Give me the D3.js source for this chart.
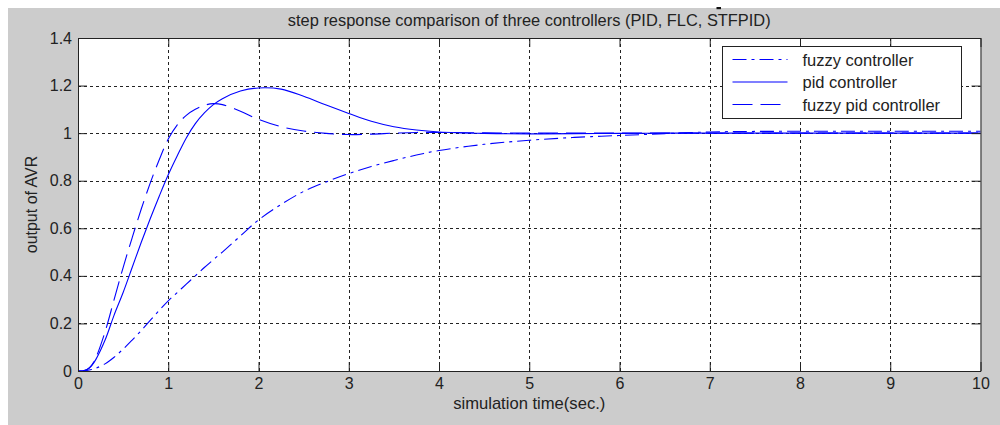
<!DOCTYPE html>
<html>
<head>
<meta charset="utf-8">
<script src="https://cdn.jsdelivr.net/npm/d3@7"></script>
<style>
  body { margin: 0; background: #fff; }
  text { font-family: "Liberation Sans", Arial, sans-serif; fill: #222; }
</style>
</head>
<body>
<div id="chart"></div>
<script>
// sample times (sec.) shared by the three step responses
var time = [0, 0.05, 0.1, 0.15, 0.2, 0.3, 0.4, 0.5, 0.6, 0.7, 0.8, 0.9, 1.0, 1.1, 1.2, 1.3, 1.4, 1.5, 1.6, 1.8,
            2.0, 2.25, 2.5, 2.75, 3.0, 3.25, 3.5, 3.75, 4.0, 4.5, 5, 5.5, 6, 6.5, 7, 8, 9, 10];

var fuzzyValues = [0, 0, 0.002, 0.006, 0.012, 0.03, 0.058, 0.092, 0.13, 0.17, 0.213, 0.255, 0.295, 0.33, 0.365,
                   0.4, 0.435, 0.468, 0.5, 0.568, 0.635, 0.7, 0.755, 0.795, 0.83, 0.86, 0.885, 0.908,
                   0.927, 0.953, 0.97, 0.982, 0.99, 0.998, 1.005, 1.008, 1.008, 1.008];

var pidValues = [0, 0, 0.006, 0.022, 0.05, 0.13, 0.235, 0.33, 0.435, 0.54, 0.64, 0.735, 0.825, 0.905, 0.98,
                 1.04, 1.085, 1.12, 1.145, 1.177, 1.19, 1.185, 1.155, 1.118, 1.083, 1.05, 1.027, 1.013,
                 1.005, 0.999, 0.997, 0.998, 0.999, 1.0, 1.0, 1.0, 1.0, 1.0];

var fuzzyPidValues = [0, 0, 0.006, 0.024, 0.058, 0.165, 0.3, 0.435, 0.56, 0.68, 0.79, 0.888, 0.975, 1.035, 1.075,
                      1.1, 1.117, 1.124, 1.12, 1.092, 1.058, 1.027, 1.009, 0.999, 0.994, 0.996, 1.0, 1.003,
                      1.003, 1.001, 1.0, 1.0, 1.0, 1.0, 1.0, 1.0, 1.0, 1.0];

var seriesNames = ["fuzzy controller", "pid controller", "fuzzy pid controller"];
var xTicks = [0, 1, 2, 3, 4, 5, 6, 7, 8, 9, 10];
var yTicks = [0, 0.2, 0.4, 0.6, 0.8, 1, 1.2, 1.4];
var yTickLabels = ["0", "0.2", "0.4", "0.6", "0.8", "1", "1.2", "1.4"];

var W = 1000, H = 425;
var margin = {top: 38, right: 19.5, bottom: 54, left: 78};

var svg = d3.select("#chart").append("svg")
    .attr("width", W)
    .attr("height", H);

// grey figure background
svg.append("rect")
    .attr("x", 8).attr("y", 8)
    .attr("width", W - 8).attr("height", H - 8)
    .attr("fill", "#cccccc");

var x = d3.scaleLinear().domain([0, 10]).range([margin.left, W - margin.right]);
var y = d3.scaleLinear().domain([0, 1.4]).range([H - margin.bottom, margin.top]);

// plot area
svg.append("rect")
    .attr("x", x(0)).attr("y", y(1.4))
    .attr("width", x(10) - x(0)).attr("height", y(0) - y(1.4))
    .attr("fill", "#fff");

// dotted grid
var grid = svg.append("g").attr("stroke", "#222").attr("stroke-width", 1).attr("stroke-dasharray", "3,3");
grid.selectAll(".gx").data(xTicks.slice(1, -1)).enter().append("line")
    .attr("x1", function(d) { return Math.round(x(d)) + 0.5; })
    .attr("x2", function(d) { return Math.round(x(d)) + 0.5; })
    .attr("y1", y(1.4)).attr("y2", y(0));
grid.selectAll(".gy").data(yTicks.slice(1, -1)).enter().append("line")
    .attr("y1", function(d) { return Math.round(y(d)) + 0.5; })
    .attr("y2", function(d) { return Math.round(y(d)) + 0.5; })
    .attr("x1", x(0)).attr("x2", x(10));

// curves
var styles = [
    {values: fuzzyValues, dash: "14,5,3,5"},
    {values: pidValues, dash: null},
    {values: fuzzyPidValues, dash: "20,8"}
];

var line = d3.line()
    .x(function(d) { return x(d[0]); })
    .y(function(d) { return y(d[1]); })
    .curve(d3.curveCatmullRom.alpha(0.5));

svg.selectAll(".curve").data(styles).enter().append("path")
    .attr("class", "curve")
    .attr("fill", "none")
    .attr("stroke", "#0000ff")
    .attr("stroke-width", 1.1)
    .attr("stroke-dasharray", function(d) { return d.dash; })
    .attr("d", function(d) { return line(d.values.map(function(v, i) { return [time[i], v]; })); });

// axes: box with inward ticks on all sides
var tickLen = 9;
var axisBottom = d3.axisBottom(x).tickValues(xTicks).tickSizeInner(-tickLen).tickSizeOuter(0).tickPadding(7)
    .tickFormat(d3.format("d"));
var axisTop = d3.axisTop(x).tickValues(xTicks).tickSizeInner(-tickLen).tickSizeOuter(0).tickFormat("");
var axisLeft = d3.axisLeft(y).tickValues(yTicks).tickSizeInner(-tickLen).tickSizeOuter(0).tickPadding(6)
    .tickFormat(function(d, i) { return yTickLabels[i]; });
var axisRight = d3.axisRight(y).tickValues(yTicks).tickSizeInner(-tickLen).tickSizeOuter(0).tickFormat("");

function styleAxis(g) {
    g.select(".domain").attr("stroke", "#222");
    g.selectAll(".tick line").attr("stroke", "#222");
    g.selectAll("text").attr("fill", "#222").style("font-size", "16px")
        .style("font-family", "\"Liberation Sans\", Arial, sans-serif");
}

svg.append("g").attr("transform", "translate(0," + y(0) + ")").call(axisBottom).call(styleAxis);
svg.append("g").attr("transform", "translate(0," + y(1.4) + ")").call(axisTop).call(styleAxis);
svg.append("g").attr("transform", "translate(" + x(0) + ",0)").call(axisLeft).call(styleAxis);
svg.append("g").attr("transform", "translate(" + x(10) + ",0)").call(axisRight).call(styleAxis);

// titles
var cx = (x(0) + x(10)) / 2;
svg.append("text")
    .attr("x", cx).attr("y", 26)
    .attr("text-anchor", "middle")
    .style("font-size", "16.4px")
    .text("step response comparison of three controllers (PID, FLC, STFPID)");

svg.append("rect")
    .attr("x", 716.5).attr("y", 7)
    .attr("width", 4.5).attr("height", 2.2)
    .attr("fill", "#111");

svg.append("text")
    .attr("x", cx).attr("y", 409)
    .attr("text-anchor", "middle")
    .style("font-size", "16.6px")
    .text("simulation time(sec.)");

svg.append("text")
    .attr("transform", "translate(37," + ((y(0) + y(1.4)) / 2) + ") rotate(-90)")
    .attr("text-anchor", "middle")
    .style("font-size", "16px")
    .text("output of AVR");

// legend
var legend = svg.append("g").attr("transform", "translate(722.5,46.5)");
legend.append("rect")
    .attr("width", 239).attr("height", 72)
    .attr("fill", "#fff")
    .attr("stroke", "#222");

var items = legend.selectAll(".item").data(styles).enter().append("g")
    .attr("transform", function(d, i) { return "translate(0," + (13 + i * 22.5) + ")"; });
items.append("line")
    .attr("x1", 10).attr("x2", 65)
    .attr("stroke", "#0000ff")
    .attr("stroke-width", 1.1)
    .attr("stroke-dasharray", function(d) { return d.dash; });
items.append("text")
    .attr("x", 80).attr("y", 6)
    .style("font-size", "16.5px")
    .text(function(d, i) { return seriesNames[i]; });
</script>
</body>
</html>
